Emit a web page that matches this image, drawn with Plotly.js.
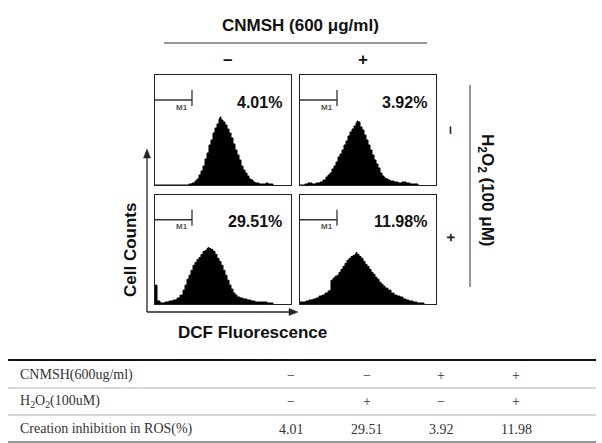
<!DOCTYPE html>
<html>
<head>
<meta charset="utf-8">
<script src="https://cdn.plot.ly/plotly-3.0.1.min.js"></script>
<style>html,body{margin:0;padding:0;background:#fff;}#chart{width:602px;height:443px;}</style>
</head>
<body>
<div id="chart"></div>
<script>
// ---- Data ----
// Conditions (order: TL, TR, BL, BR panels)
const cnmsh = ['–', '+', '–', '+'];
const h2o2  = ['–', '–', '+', '+'];
const rosPct = [4.01, 3.92, 29.51, 11.98];

// Histograms: DCF fluorescence channel vs. cell counts
const histTL_x = [0, 30, 34, 37, 40, 42, 44, 46, 48, 50, 52, 54, 56, 58, 60, 62, 64, 65, 66, 68, 70, 72, 74, 76, 78, 80, 82, 84, 86, 88, 90, 92, 94, 96, 98, 100, 104, 108, 111, 113, 118];
const histTL_y = [0, 0, 1, 2, 4, 6, 10, 14, 19, 26, 32, 40, 45, 52, 57, 61, 66, 68, 65, 63, 60, 56, 52, 47, 41, 35, 30, 25, 19, 15, 12, 9, 6, 5, 3, 2, 1, 1, 2, 1, 0];

const histTR_x = [0, 5, 8, 12, 16, 20, 23, 26, 28, 30, 32, 34, 36, 38, 40, 42, 44, 46, 48, 50, 52, 54, 56, 57, 58, 60, 62, 64, 66, 68, 70, 72, 74, 76, 78, 80, 82, 84, 86, 88, 90, 94, 98, 102, 106, 110, 114, 118];
const histTR_y = [0, 1, 2, 1, 2, 3, 5, 8, 10, 12, 16, 19, 23, 28, 31, 35, 40, 44, 49, 53, 56, 59, 62, 64, 63, 58, 55, 50, 45, 40, 35, 30, 25, 21, 17, 12, 9, 7, 6, 5, 4, 3, 2, 3, 2, 1, 1, 0];

const histBL_x = [0, 2, 5, 10, 14, 18, 22, 25, 28, 30, 32, 34, 36, 38, 40, 42, 44, 46, 48, 50, 52, 53, 54, 56, 58, 60, 62, 64, 66, 68, 70, 72, 74, 76, 78, 80, 82, 85, 88, 92, 96, 100, 106, 112, 118];
const histBL_y = [19, 3, 1, 2, 3, 4, 6, 9, 14, 19, 25, 29, 34, 39, 42, 45, 47, 50, 53, 54, 56, 57, 56, 55, 53, 50, 46, 43, 39, 34, 29, 24, 19, 15, 11, 9, 7, 6, 5, 4, 3, 2, 2, 1, 0];

const histBR_x = [0, 3, 6, 9, 13, 16, 19, 22, 25, 28, 30, 31, 33, 35, 37, 39, 41, 43, 45, 47, 49, 51, 53, 55, 56, 57, 59, 61, 63, 65, 67, 69, 71, 73, 75, 77, 79, 81, 83, 85, 88, 91, 94, 97, 100, 103, 106, 109, 113, 117, 121, 124];
const histBR_y = [2, 2, 3, 4, 5, 6, 8, 9, 11, 13, 14, 24, 26, 28, 29, 32, 35, 38, 41, 44, 46, 48, 49, 50, 52, 50, 48, 46, 43, 40, 38, 35, 32, 30, 27, 25, 22, 20, 18, 16, 14, 11, 9, 8, 7, 5, 4, 3, 2, 1, 1, 0];

// Table rows
const tableLabels = ['CNMSH(600ug/ml)', 'H<sub>2</sub>O<sub>2</sub>(100uM)', 'Creation inhibition in ROS(%)'];
const tableCnmsh = ['−', '−', '+', '+'];
const tableH2o2  = ['−', '+', '−', '+'];
const tableRos   = ['4.01', '29.51', '3.92', '11.98'];

// ---- Layout helpers ----
const W = 602, H = 443;
const px = v => v / W;
const py = v => 1 - v / H;
const sans = 'Liberation Sans, Arial, sans-serif';
const serif = 'Liberation Serif, DejaVu Serif, serif';

const hists = [[histTL_x, histTL_y], [histTR_x, histTR_y], [histBL_x, histBL_y], [histBR_x, histBR_y]];
const suffix = ['', '2', '3', '4'];
const traces = hists.map((h, i) => ({
  type: 'scatter', mode: 'lines', x: h[0], y: h[1],
  xaxis: 'x' + suffix[i], yaxis: 'y' + suffix[i],
  line: {shape: 'hv', color: '#000', width: 1},
  fill: 'tozeroy', fillcolor: '#000', hoverinfo: 'skip', showlegend: false
}));

const xDom = [[155, 291], [300, 436], [155, 291], [300, 436]];
const yDom = [[75, 185], [75, 185], [195, 304], [195, 304]];

const layout = {
  width: W, height: H,
  margin: {l: 0, r: 0, t: 0, b: 0},
  paper_bgcolor: '#fff', plot_bgcolor: '#fff',
  showlegend: false,
  shapes: [], annotations: []
};

for (let i = 0; i < 4; i++) {
  const ax = {
    domain: [px(xDom[i][0]), px(xDom[i][1])], range: [0, 136],
    showticklabels: false, ticks: '', showgrid: false, zeroline: false,
    showline: true, mirror: true, linecolor: '#222', linewidth: 1, fixedrange: true,
    anchor: 'y' + suffix[i]
  };
  const ay = {
    domain: [py(yDom[i][1]), py(yDom[i][0])], range: [0, 110],
    showticklabels: false, ticks: '', showgrid: false, zeroline: false,
    showline: true, mirror: true, linecolor: '#222', linewidth: 1, fixedrange: true,
    anchor: 'x' + suffix[i]
  };
  layout['xaxis' + suffix[i]] = ax;
  layout['yaxis' + suffix[i]] = ay;

  const xr = 'x' + suffix[i], yr = 'y' + suffix[i];
  // M1 gate marker
  layout.shapes.push({type: 'line', xref: xr, yref: yr, x0: 0, x1: 37, y0: 85, y1: 85, line: {color: '#333', width: 1.3}});
  layout.shapes.push({type: 'line', xref: xr, yref: yr, x0: 37, x1: 37, y0: 79, y1: 95, line: {color: '#333', width: 1.3}});
  layout.annotations.push({xref: xr, yref: yr, x: 27, y: 78, xanchor: 'center', yanchor: 'middle', text: 'M1', showarrow: false,
    font: {family: sans, size: 8, color: '#555', weight: 700}});
  // percentage label
  layout.annotations.push({xref: xr, yref: yr, x: 129, y: 83, xanchor: 'right', yanchor: 'middle',
    text: rosPct[i].toFixed(2) + '%', showarrow: false,
    font: {family: sans, size: 16, color: '#111', weight: 700}});
}

const big = {family: sans, size: 17, color: '#111', weight: 700};
const A = layout.annotations, S = layout.shapes;
const txt = (x, y, text, font, extra) => A.push(Object.assign({
  xref: 'paper', yref: 'paper', x: px(x), y: py(y), text: text, showarrow: false,
  xanchor: 'center', yanchor: 'middle', font: font
}, extra || {}));
const pline = (x0, y0, x1, y1, color, width) => S.push({type: 'line', xref: 'paper', yref: 'paper',
  x0: px(x0), x1: px(x1), y0: py(y0), y1: py(y1), line: {color: color, width: width}});
const ptri = (pts) => S.push({type: 'path', xref: 'paper', yref: 'paper',
  path: 'M' + pts.map(p => px(p[0]) + ',' + py(p[1])).join(' L') + ' Z',
  fillcolor: '#222', line: {color: '#222', width: 0.5}});

// Header
txt(300, 25, 'CNMSH (600 μg/ml)', big);
pline(164, 43, 427, 43, '#333', 1);
txt(227, 59, cnmsh[0], big);
txt(363, 59, cnmsh[1], big);

// Right side H2O2
pline(470, 85, 470, 287, '#333', 1);
txt(486, 190, 'H<sub>2</sub>O<sub>2</sub> (100 μM)', big, {textangle: 90});
const sideFont = {family: sans, size: 15, color: '#222', weight: 700};
txt(452, 130, h2o2[0], sideFont, {textangle: 90});
txt(452, 237, h2o2[2], sideFont, {textangle: 90});

// Axis arrows and labels
pline(147, 312, 147, 156, '#222', 1.3);
ptri([[147, 149], [143.5, 158], [150.5, 158]]);
pline(147, 312, 290, 312, '#222', 1.3);
ptri([[298, 312], [289, 308.5], [289, 315.5]]);
txt(130, 250, 'Cell Counts', big, {textangle: -90});
txt(252, 332, 'DCF Fluorescence', big);

// Table
pline(8, 360, 596, 360, '#111', 2.2);
pline(8, 388, 596, 388, '#999', 0.8);
pline(8, 415, 596, 415, '#999', 0.8);
pline(8, 442, 596, 442, '#333', 1.2);

const rowY = [375, 401, 429];
const colX = [291, 367, 441, 516];
const tfont = {family: serif, size: 14, color: '#333'};
const rows = [tableCnmsh, tableH2o2, tableRos];
tableLabels.forEach((lab, r) => {
  txt(18, rowY[r], lab, tfont, {xanchor: 'left'});
  rows[r].forEach((v, c) => txt(colX[c], rowY[r], v, tfont));
});

Plotly.newPlot('chart', traces, layout, {staticPlot: true, displayModeBar: false});
</script>
</body>
</html>
